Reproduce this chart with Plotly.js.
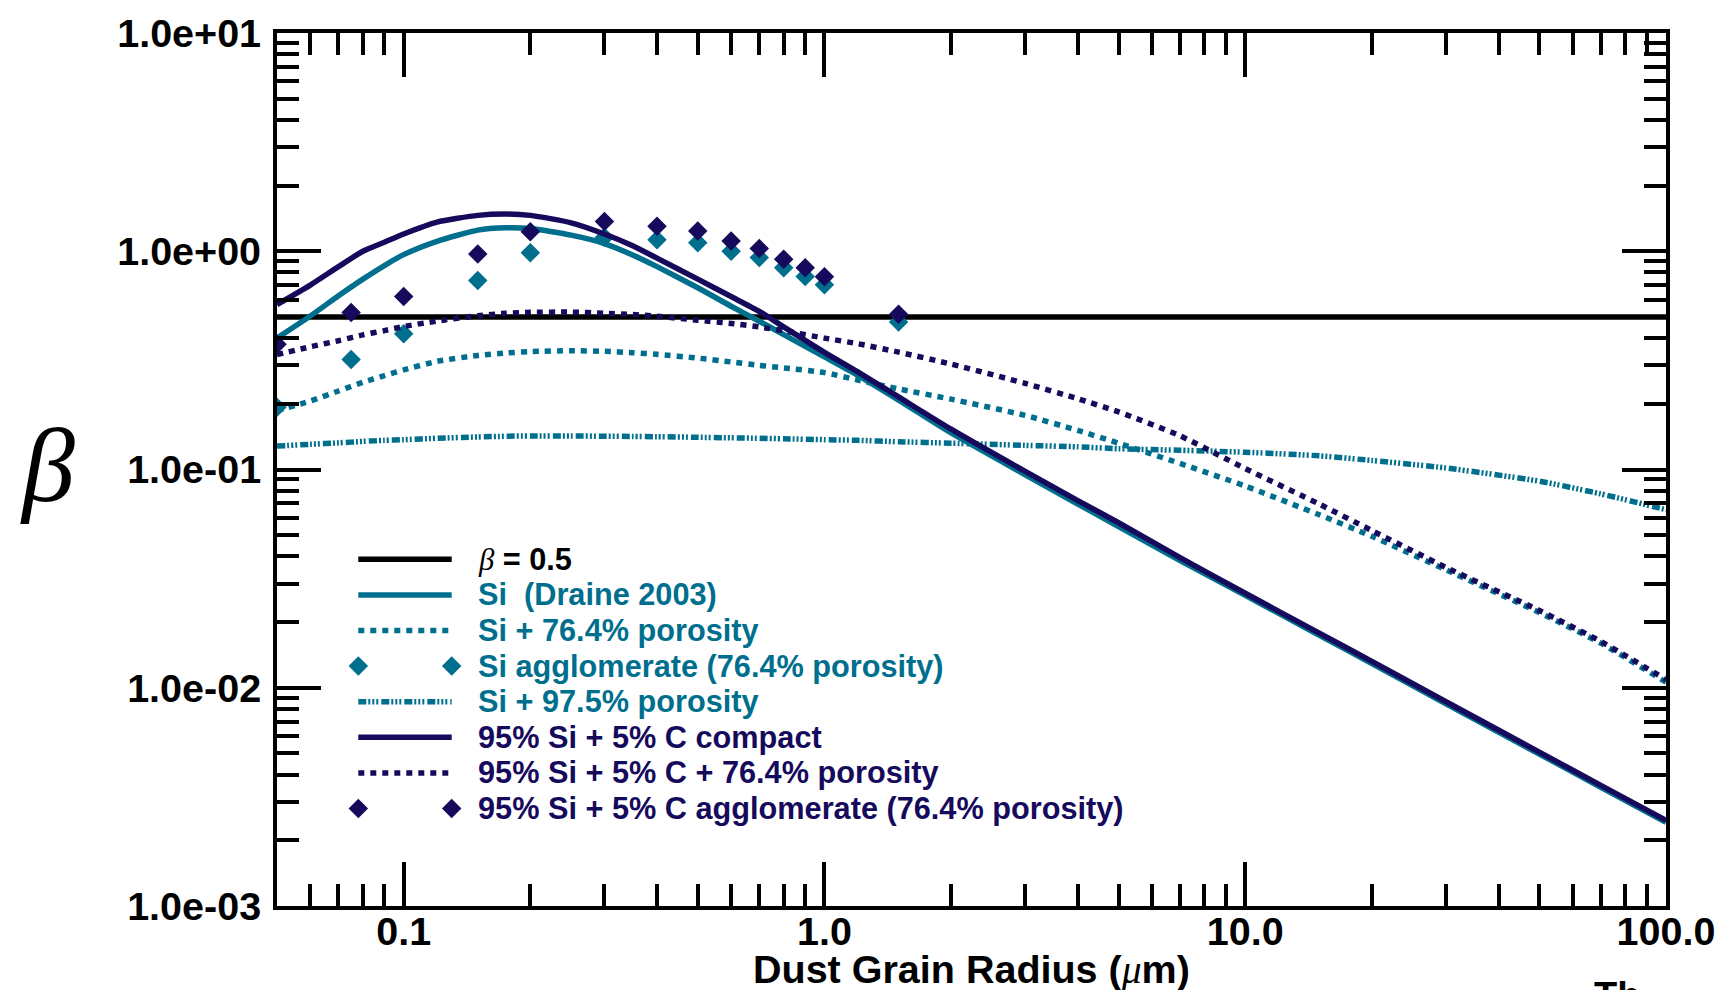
<!DOCTYPE html>
<html>
<head>
<meta charset="utf-8">
<script src="https://cdn.plot.ly/plotly-3.0.1.min.js"></script>
<style>
  html, body { margin: 0; padding: 0; background: #fff; overflow: hidden; }
  #chart { width: 1723px; height: 990px; }
</style>
</head>
<body>
<div id="chart"></div>
<script>
// Radiation-pressure parameter beta versus dust grain radius for silicate grains

// Grain radius grid (micrometres) for the computed curves
const radius = [0.05, 0.06, 0.07, 0.08, 0.09, 0.1, 0.12, 0.15, 0.175, 0.2, 0.25, 0.3, 0.35, 0.4, 0.5, 0.6, 0.7, 0.8, 1.0, 1.2, 1.5, 2, 3, 4, 5, 7, 10, 15, 20, 30, 50, 70, 100];

// Pure silicate, compact (Draine 2003 optical constants)
const siCompact = [0.40, 0.505, 0.625, 0.745, 0.86, 0.965, 1.11, 1.25, 1.28, 1.27, 1.185, 1.085, 0.962, 0.85, 0.68, 0.56, 0.478, 0.415, 0.328, 0.27, 0.208, 0.147, 0.0946, 0.0695, 0.0547, 0.0383, 0.0265, 0.0174, 0.0129, 0.00845, 0.00497, 0.0035, 0.00242];
// Silicate with 76.4% porosity
const siPorous764 = [0.186, 0.206, 0.229, 0.251, 0.269, 0.286, 0.313, 0.333, 0.342, 0.347, 0.350, 0.348, 0.343, 0.337, 0.324, 0.311, 0.300, 0.292, 0.278, 0.257, 0.234, 0.21, 0.177, 0.151, 0.132, 0.1066, 0.084, 0.062, 0.0494, 0.0347, 0.0221, 0.016, 0.0106];
// Silicate with 97.5% porosity
const siPorous975 = [0.128, 0.1305, 0.1325, 0.1345, 0.136, 0.137, 0.139, 0.141, 0.142, 0.1425, 0.1425, 0.142, 0.1418, 0.1413, 0.1405, 0.1397, 0.139, 0.1383, 0.137, 0.136, 0.134, 0.132, 0.129, 0.127, 0.1245, 0.1225, 0.120, 0.1155, 0.110, 0.1016, 0.0884, 0.0773, 0.0655];
// 95% silicate + 5% carbon, compact
const siCCompact = [0.57, 0.70, 0.85, 1.0, 1.10, 1.20, 1.36, 1.46, 1.48, 1.46, 1.35, 1.20, 1.06, 0.93, 0.745, 0.62, 0.53, 0.45, 0.344, 0.28, 0.215, 0.153, 0.098, 0.072, 0.057, 0.0395, 0.0271, 0.0178, 0.0132, 0.00863, 0.00507, 0.00357, 0.00247];
// 95% silicate + 5% carbon with 76.4% porosity
const siCPorous764 = [0.336, 0.365, 0.389, 0.414, 0.433, 0.452, 0.479, 0.506, 0.52, 0.525, 0.526, 0.52, 0.513, 0.504, 0.483, 0.467, 0.45, 0.432, 0.40, 0.377, 0.345, 0.304, 0.248, 0.211, 0.1836, 0.1427, 0.101, 0.0694, 0.0525, 0.0356, 0.0226, 0.0163, 0.0109];

// Agglomerate (76.4% porosity) results
const aggRadius = [0.05, 0.075, 0.1, 0.15, 0.2, 0.3, 0.4, 0.5, 0.6, 0.7, 0.8, 0.9, 1.0, 1.5];
const siAgglomerate = [0.193, 0.319, 0.419, 0.734, 0.984, 1.16, 1.13, 1.095, 1.0, 0.935, 0.84, 0.767, 0.702, 0.474];
const siCAgglomerate = [0.375, 0.524, 0.620, 0.971, 1.227, 1.368, 1.303, 1.237, 1.114, 1.03, 0.92, 0.84, 0.764, 0.515];

// Blow-out threshold
const betaLimit = 0.5;

// Axis ticks
const xTickVals = [0.1, 1, 10, 100];
const xTickText = ['0.1', '1.0', '10.0', '100.0'];
const yTickVals = [0.001, 0.01, 0.1, 1, 10];
const yTickText = ['1.0e-03', '1.0e-02', '1.0e-01', '1.0e+00', '1.0e+01'];

// ---- styling ----
const TEAL = '#006f8e';
const NAVY = '#160a5c';
const BLACK = '#000000';
const SANS = "'Liberation Sans', Arial, Helvetica, sans-serif";
const SERIF = "'Liberation Serif', 'Times New Roman', serif";
const SERIF_ITALIC = "font-family:'Liberation Serif','Times New Roman',serif;font-style:italic;font-weight:normal";
const DOT = '6px,6px';
const DASH_DOT3 = '8px,2px,2px,2px,2px,2px,2px,3px';
const LINE_W = 5.5;
const MARKER_SIZE = 15;
const LABEL_SIZE = 39.5;
const KEY_SIZE = 30.7;

// Page geometry
const W = 1723, H = 990;
const M = { l: 277, r: 57, t: 33, b: 84 };
const PLOT_W = W - M.l - M.r;
const PLOT_H = H - M.t - M.b;
const pxX = X => (X - M.l) / PLOT_W;
const pxY = Y => (M.t + PLOT_H - Y) / PLOT_H;

const xRange = [Math.log10(0.05), Math.log10(100)];
const yRange = [-3, 1];

// Minor ticks at 2..9 of each decade inside the range
function minorTicks(lo, hi) {
  const out = [];
  for (let e = Math.floor(lo) - 1; e <= Math.ceil(hi); e++) {
    for (let k = 2; k <= 9; k++) {
      const v = k * Math.pow(10, e);
      const lv = Math.log10(v);
      if (lv > lo + 1e-6 && lv < hi - 1e-6) out.push(v);
    }
  }
  return out;
}

const series = [
  { label: `<span style="${SERIF_ITALIC}">β</span> = 0.5`, x: [radius[0], radius[radius.length - 1]], y: [betaLimit, betaLimit], color: BLACK, kind: 'line', dash: 'solid' },
  { label: 'Si\u00a0 (Draine 2003)', x: radius, y: siCompact, color: TEAL, kind: 'line', dash: 'solid' },
  { label: 'Si + 76.4% porosity', x: radius, y: siPorous764, color: TEAL, kind: 'line', dash: DOT },
  { label: 'Si agglomerate (76.4% porosity)', x: aggRadius, y: siAgglomerate, color: TEAL, kind: 'marker' },
  { label: 'Si + 97.5% porosity', x: radius, y: siPorous975, color: TEAL, kind: 'line', dash: DASH_DOT3 },
  { label: '95% Si + 5% C compact', x: radius, y: siCCompact, color: NAVY, kind: 'line', dash: 'solid' },
  { label: '95% Si + 5% C + 76.4% porosity', x: radius, y: siCPorous764, color: NAVY, kind: 'line', dash: DOT },
  { label: '95% Si + 5% C agglomerate (76.4% porosity)', x: aggRadius, y: siCAgglomerate, color: NAVY, kind: 'marker' }
];

function styleFor(s, smooth) {
  if (s.kind === 'marker') {
    return { mode: 'markers', marker: { symbol: 'diamond', size: MARKER_SIZE, color: s.color, line: { width: 0 } } };
  }
  const line = { color: s.color, width: LINE_W, dash: s.dash };
  if (smooth) { line.shape = 'spline'; line.smoothing = 0.6; }
  return { mode: 'lines', line: line };
}

const traces = [];
series.forEach(s => {
  traces.push(Object.assign({ type: 'scatter', x: s.x, y: s.y, xaxis: 'x', yaxis: 'y', hoverinfo: 'skip', showlegend: false }, styleFor(s, true)));
});

// Hand-built key: sample line (or pair of diamonds) plus coloured label per row
const KEY_X0 = 358.3, KEY_X1 = 451.7, KEY_TEXT_X = 475.5;
const KEY_TOP = 559.3, KEY_STEP = 35.6;
const annotations = [];
series.forEach((s, i) => {
  const ry = pxY(KEY_TOP + i * KEY_STEP);
  traces.push(Object.assign({ type: 'scatter', x: [pxX(KEY_X0), pxX(KEY_X1)], y: [ry, ry], xaxis: 'x2', yaxis: 'y2', hoverinfo: 'skip', showlegend: false, cliponaxis: false }, styleFor(s, false)));
  annotations.push({
    xref: 'paper', yref: 'paper', x: pxX(KEY_TEXT_X), y: ry, xanchor: 'left', yanchor: 'middle',
    text: s.label, showarrow: false,
    font: { family: SANS, size: KEY_SIZE, color: s.color, weight: 'bold' }
  });
});

// Axis titles
annotations.push({
  xref: 'paper', yref: 'paper', x: 0, xshift: 47 - M.l, y: pxY(465), xanchor: 'center', yanchor: 'middle',
  text: 'β', showarrow: false,
  font: { family: SERIF, size: 106, color: BLACK, style: 'italic' }
});
annotations.push({
  xref: 'paper', yref: 'paper', x: 0.5, y: pxY(969), xanchor: 'center', yanchor: 'middle',
  text: `Dust Grain Radius (<span style="${SERIF_ITALIC}">μ</span>m)`, showarrow: false,
  font: { family: SANS, size: LABEL_SIZE, color: BLACK, weight: 'bold' }
});
annotations.push({
  xref: 'paper', yref: 'paper', x: pxX(1592), y: pxY(995.8), xanchor: 'left', yanchor: 'middle',
  text: 'Th', showarrow: false,
  font: { family: SANS, size: 38, color: BLACK, weight: 'bold' }
});

const tickFont = { family: SANS, size: LABEL_SIZE, color: BLACK, weight: 'bold' };
const axisCommon = {
  type: 'log', tickmode: 'array', ticks: 'inside', ticklen: 44, tickwidth: 4, tickcolor: BLACK,
  showline: true, linewidth: 4, linecolor: BLACK, mirror: 'allticks',
  showgrid: false, zeroline: false, tickfont: tickFont
};

const layout = {
  width: W, height: H,
  margin: { l: M.l, r: M.r, t: M.t, b: M.b, pad: 0 },
  paper_bgcolor: '#ffffff', plot_bgcolor: '#ffffff',
  showlegend: false,
  xaxis: Object.assign({}, axisCommon, {
    range: xRange, tickvals: xTickVals, ticktext: xTickText, ticklabelstandoff: -12,
    minor: { tickmode: 'array', tickvals: minorTicks(xRange[0], xRange[1]), ticks: 'inside', ticklen: 22, tickwidth: 4, tickcolor: BLACK, showgrid: false }
  }),
  yaxis: Object.assign({}, axisCommon, {
    range: yRange, tickvals: yTickVals, ticktext: yTickText, ticklabelstandoff: 4,
    minor: { tickmode: 'array', tickvals: minorTicks(yRange[0], yRange[1]), ticks: 'inside', ticklen: 22, tickwidth: 4, tickcolor: BLACK, showgrid: false }
  }),
  xaxis2: { overlaying: 'x', anchor: 'y2', range: [0, 1], visible: false, fixedrange: true },
  yaxis2: { overlaying: 'y', anchor: 'x2', range: [0, 1], visible: false, fixedrange: true },
  annotations: annotations
};

Plotly.newPlot('chart', traces, layout, { staticPlot: true, displayModeBar: false });
</script>
</body>
</html>
